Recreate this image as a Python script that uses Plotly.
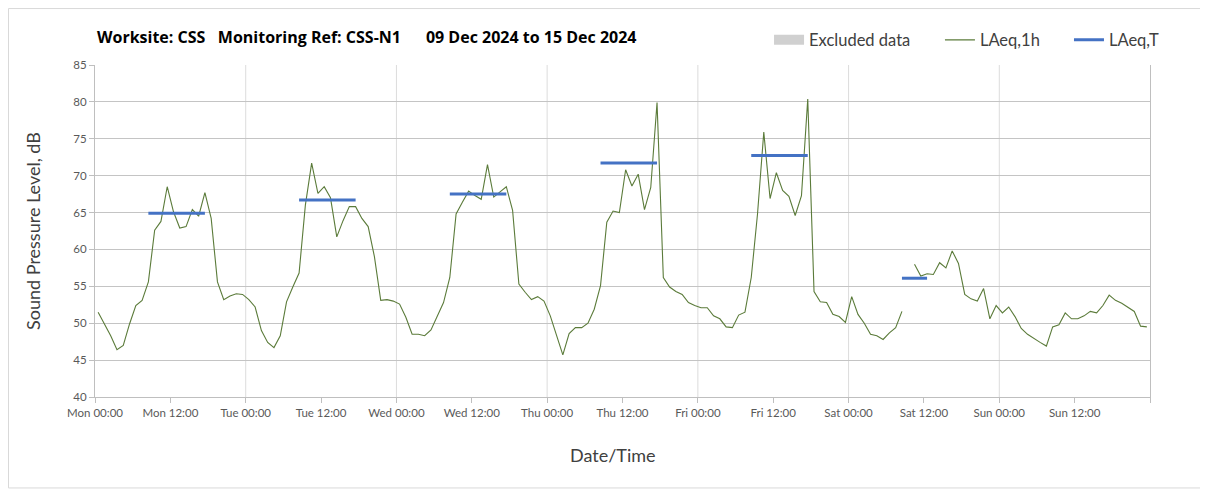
import pandas as pd
import plotly.graph_objects as go

# hourly LAeq,1h values, Mon 09 Dec 00:00 to Sun 15 Dec 23:00 (None = no data)
laeq_1h = [
    51.5, 50.0, 48.3, 46.4, 47.0, 49.9, 52.4, 53.1, 55.6, 62.6, 63.8, 68.5,
    65.1, 62.9, 63.1, 65.4, 64.5, 67.7, 64.2, 55.6, 53.2, 53.7, 54.0, 53.9,
    53.2, 52.2, 49.0, 47.4, 46.7, 48.3, 52.9, 54.9, 56.8, 66.0, 71.7, 67.6,
    68.5, 67.0, 61.7, 63.9, 65.8, 65.8, 64.2, 63.1, 59.0, 53.1, 53.2, 53.0,
    52.6, 50.8, 48.5, 48.5, 48.3, 49.1, 51.0, 52.8, 56.2, 64.8, 66.4, 67.9,
    67.3, 66.8, 71.5, 67.1, 67.8, 68.5, 65.3, 55.3, 54.2, 53.2, 53.6, 53.0,
    51.0, 48.5, 45.7, 48.6, 49.4, 49.4, 50.0, 51.9, 55.1, 63.7, 65.2, 65.0,
    70.8, 68.6, 70.2, 65.4, 68.4, 79.9, 56.2, 54.9, 54.3, 53.9, 52.8, 52.4,
    52.1, 52.1, 51.0, 50.6, 49.5, 49.4, 51.1, 51.5, 56.2, 64.8, 75.9, 66.9,
    70.4, 68.0, 67.2, 64.6, 67.3, 80.4, 54.3, 52.9, 52.8, 51.2, 50.9, 50.1,
    53.6, 51.2, 50.0, 48.5, 48.3, 47.8, 48.7, 49.4, 51.6, None, 58.0, 56.4,
    56.7, 56.6, 58.2, 57.5, 59.8, 58.1, 53.9, 53.3, 53.0, 54.7, 50.6, 52.4,
    51.4, 52.2, 50.9, 49.3, 48.5, 47.9, 47.4, 46.9, 49.5, 49.8, 51.4, 50.6,
    50.6, 51.0, 51.6, 51.4, 52.4, 53.8, 53.1, 52.7, 52.2, 51.6, 49.6, 49.5,
]
times = pd.date_range("2024-12-09 00:30", periods=len(laeq_1h), freq="h")

# LAeq,T for each working period
period_from = ["2024-12-09 08:30", "2024-12-10 08:30", "2024-12-11 08:30",
               "2024-12-12 08:30", "2024-12-13 08:30", "2024-12-14 08:30"]
period_to = ["2024-12-09 17:30", "2024-12-10 17:30", "2024-12-11 17:30",
             "2024-12-12 17:30", "2024-12-13 17:30", "2024-12-14 12:30"]
laeq_t = [64.9, 66.7, 67.5, 71.7, 72.75, 56.1]

tick_times = pd.date_range("2024-12-09", periods=15, freq="12h")
tick_text = [t.strftime("%a %H:%M") for t in tick_times[:-1]] + [""]
day_lines = pd.date_range("2024-12-10", periods=6, freq="D")

t_x, t_y = [], []
for a, b, v in zip(period_from, period_to, laeq_t):
    t_x += [a, b, None]
    t_y += [v, v, None]

fig = go.Figure()

# legend-only entry, no excluded periods this week
fig.add_trace(go.Scatter(x=[None], y=[None], mode="lines", name="Excluded data",
                         line=dict(color="#d0d0d0", width=10), legend="legend"))
fig.add_trace(go.Scatter(x=times, y=laeq_1h, mode="lines", name="LAeq,1h",
                         line=dict(color="#5b7b3a", width=1.1), connectgaps=False,
                         legend="legend2"))
fig.add_trace(go.Scatter(x=t_x, y=t_y, mode="lines", name="LAeq,T",
                         line=dict(color="#4472c4", width=3), legend="legend3"))

for d in day_lines:
    fig.add_shape(type="line", xref="x", yref="paper", x0=d, x1=d, y0=0, y1=1,
                  line=dict(color="#dcdcdc", width=1), layer="below")

# outer chart frame
fig.add_shape(type="rect", xref="paper", yref="paper",
              x0=-0.082, x1=1.07, y0=-0.274, y1=1.170,
              line=dict(color="#d9d9d9", width=1))

fig.add_annotation(
    text="<b>Worksite: CSS\u00a0\u00a0\u00a0Monitoring Ref: CSS-N1"
         "\u00a0\u00a0\u00a0\u00a0\u00a0\u00a009 Dec 2024 to 15 Dec 2024</b>",
    xref="paper", x=0, xanchor="left", yref="paper", y=(397 - 37) / 332,
    yanchor="middle", showarrow=False,
    font=dict(size=16, color="black", family="Open Sans"),
)
fig.add_annotation(
    text="Date/Time", xref="paper", x=(613 - 95) / 1055, xanchor="center",
    yref="paper", y=(397 - 455) / 332, yanchor="middle", showarrow=False,
    font=dict(size=18, color="#404040"),
)

leg = dict(orientation="h", y=1.075, yanchor="middle", xanchor="left",
           font=dict(size=16.5, color="#404040"), bgcolor="rgba(0,0,0,0)")

# page is offset 8px by the body margin, so the figure is 8px smaller
fig.update_layout(
    width=1200, height=482,
    margin=dict(l=87, r=58, t=57, b=93),
    paper_bgcolor="white", plot_bgcolor="white",
    font=dict(family="Lato", color="#404040"),
    legend=dict(leg, x=0.6389),
    legend2=dict(leg, x=0.8009),
    legend3=dict(leg, x=0.9232),
    showlegend=True,
)

fig.update_xaxes(
    type="date", range=["2024-12-09 00:00", "2024-12-16 00:00"],
    tickvals=tick_times, ticktext=tick_text,
    showgrid=False, showline=True, linecolor="#bfbfbf", linewidth=1,
    ticks="outside", ticklen=5, tickcolor="#bfbfbf",
    tickfont=dict(size=11.5, color="#595959"),
    zeroline=False,
)
fig.update_yaxes(
    range=[40, 85], dtick=5, showgrid=True, gridcolor="#c4c4c4", gridwidth=1,
    showline=True, linecolor="#bfbfbf", linewidth=1, mirror=True,
    ticks="outside", ticklen=5, tickcolor="#bfbfbf",
    tickfont=dict(size=11.5, color="#595959"),
    title=dict(text="Sound Pressure Level, dB", font=dict(size=18, color="#404040"),
               standoff=28),
    zeroline=False,
)

fig.write_html("out.html")
